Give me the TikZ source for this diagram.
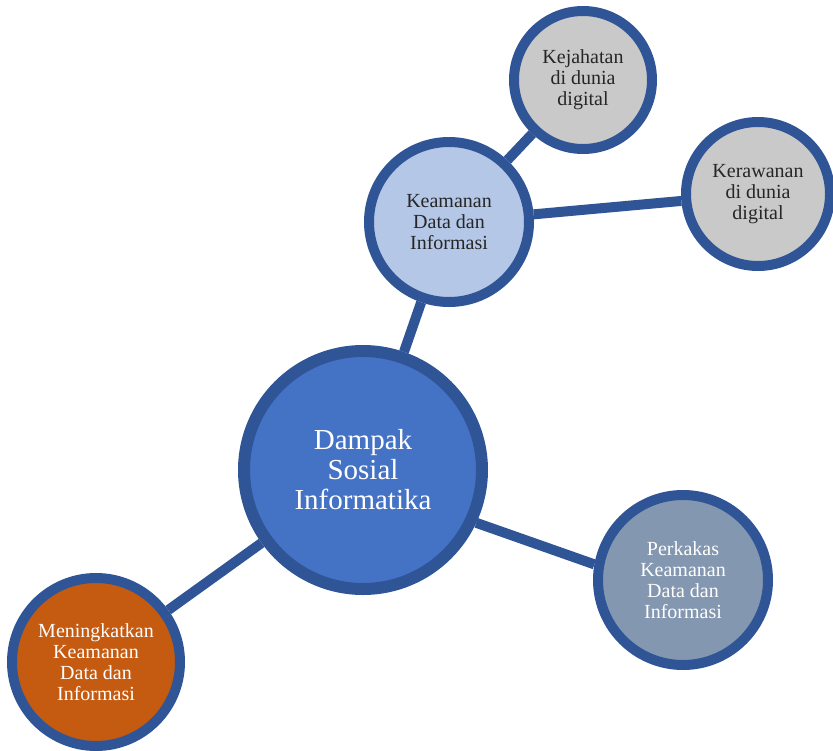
\documentclass[tikz,border=0pt]{standalone}
\usepackage{fontspec}
\setmainfont{Liberation Serif}
\usetikzlibrary{backgrounds}

\definecolor{rimblue}{HTML}{2F5597}
\definecolor{coreblue}{HTML}{4472C4}
\definecolor{paleblue}{HTML}{B4C7E7}
\definecolor{leafgray}{HTML}{C9C9C9}
\definecolor{slateblue}{HTML}{8497B0}
\definecolor{rustorange}{HTML}{C55A11}
\definecolor{inkgray}{HTML}{262626}

\tikzset{
  bubble/.style={circle, draw=rimblue, line width=10pt, inner sep=0pt, align=center,
    font=\fontsize{20}{21}\selectfont},
  link/.style={draw=rimblue, line width=10pt}
}

\begin{document}
\begin{tikzpicture}[x=1pt,y=-1pt]

% === Canvas (pixel units, y downwards) ===
\useasboundingbox (0,0) rectangle (833,750);

% === Centre ===
\node[bubble, fill=coreblue, text=white, line width=12pt, minimum size=238pt,
  font=\fontsize{29}{30}\selectfont] (dampak) at (363,470)
  {Dampak\\Sosial\\Informatika};

% === Upper branch ===
\node[bubble, fill=paleblue, text=inkgray, minimum size=160pt] (keamanan) at (449,222)
  {Keamanan\\Data dan\\Informasi};
\node[bubble, fill=leafgray, text=inkgray, minimum size=138pt] (kejahatan) at (583,80)
  {Kejahatan\\di dunia\\digital};
\node[bubble, fill=leafgray, text=inkgray, minimum size=144pt] (kerawanan) at (758,194)
  {Kerawanan\\di dunia\\digital};

% === Lower branches ===
\node[bubble, fill=slateblue, text=white, minimum size=170pt] (perkakas) at (683,580)
  {Perkakas\\Keamanan\\Data dan\\Informasi};
\node[bubble, fill=rustorange, text=white, minimum size=168pt] (meningkatkan) at (96,662)
  {Meningkatkan\\Keamanan\\Data dan\\Informasi};

% === Connectors (behind the circles) ===
\begin{scope}[on background layer]
\draw[link] (dampak) -- (keamanan);
\draw[link] (keamanan) -- (kejahatan);
\draw[link] (keamanan) -- (kerawanan);
\draw[link] (dampak.-25) -- (perkakas.170);
\draw[link] (dampak) -- (meningkatkan);
\end{scope}

\end{tikzpicture}
\end{document}
